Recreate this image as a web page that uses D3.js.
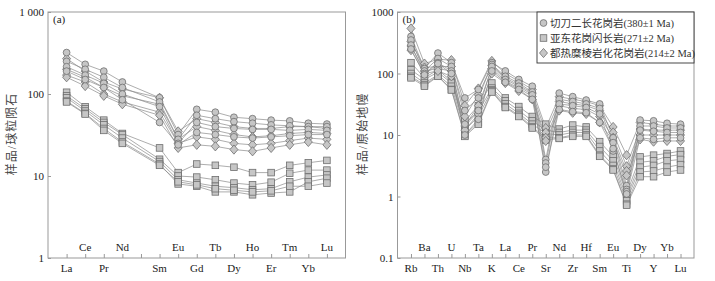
<!DOCTYPE html>
<html lang="zh-cn">
<head>
<meta charset="utf-8">
<title>稀土元素配分图与微量元素蛛网图</title>
<script src="https://d3js.org/d3.v7.min.js"></script>
<style>
  body { margin: 0; background: #fff; }
  .frame { fill: none; stroke: #999; stroke-width: 1; }
  .tick line { stroke: #999; }
  .series { fill: none; stroke: #8a8a8a; stroke-width: 0.7; }
  .mark { fill: #c6c6c6; stroke: #6e6e6e; stroke-width: 0.8; }
</style>
</head>
<body>
<svg width="715" height="281"></svg>
<script>
// ---- (a) chondrite-normalised REE ----
var reeElements = ["La","Ce","Pr","Nd","Pm","Sm","Eu","Gd","Tb","Dy","Ho","Er","Tm","Yb","Lu"];
// Pm has no data (null)
var reeCircle = [
  [320,230,190,140,null,90,32,65,60,52,50,48,47,44,43],
  [250,200,160,120,null,80,28,55,50,46,44,42,41,40,40],
  [215,170,135,100,null,70,25,45,40,38,37,37,36,37,36],
  [190,150,120, 85,null,45,24,34,32,30,29,30,31,32,32]
];
var reeDiamond = [
  [270,190,140,115,null,90,35,50,45,40,38,38,40,40,38],
  [200,160,120, 95,null,75,28,40,36,32,30,31,33,34,33],
  [170,140,100, 80,null,60,25,30,28,25,24,25,27,29,28],
  [160,125, 95, 75,null,55,22,24,23,21,20,22,24,26,24]
];
var reeSquare = [
  [105,70,48,33,null,22,11,14,13.5,12.8,11,11,13.5,14.5,15.5],
  [ 95,66,45,32,null,16,10,9.7,9,8.2,7.8,8.4,10.8,11.8,11.8],
  [ 90,62,42,29,null,15,9,8.2,7.5,7.2,6.8,7,8.5,9.7,10.3],
  [ 82,58,38,26,null,14,8,7.5,6.4,6.4,5.9,6.2,6.4,8.5,9.4],
  [ 80,57,36,25,null,13.5,8.5,7.8,7,6.7,6.4,6.6,7.5,7.5,8.2]
];
var reeTicks = [1, 10, 100, 1000];
var reeTickLabels = ["1", "10", "100", "1 000"];

// ---- (b) primitive-mantle-normalised spider ----
var spiderElements = ["Rb","Ba","Th","U","Nb","Ta","K","La","Ce","Pr","Sr","Nd","Zr","Hf","Sm","Eu","Ti","Dy","Y","Yb","Lu"];
var spiderCircle = [
  [400,120,215,150,40,55,150,110,80,62,4,48,42,37,32,9,1.5,17.5,17,15.5,15],
  [350,110,175,130,25,40,140,90,70,50,3.5,38,35,32,27,7.5,1.3,14,14,13,13],
  [290,100,150,110,15,25,130,80,62,45,2.5,32,30,28,22,5.5,1.2,12,11.5,11,11],
  [250,95,145,100,10,18,110,72,55,38,3,26,24,23,16,6,1.1,9,8.5,9,9]
];
var spiderDiamond = [
  [540,145,170,165,30,57,160,100,75,55,13,42,38,35,30,13.5,4.7,16,15,14,14],
  [330,125,130,130,20,45,135,85,65,48,11,35,32,30,25,11,3.1,12.5,12,12,12],
  [280,110,120,110,14,30,120,75,58,42,9,30,27,26,20,9,2.6,10,10,10,10],
  [240,100,110,90,12,22,100,70,52,38,8,25,23,22,16,8,2.2,8.5,7.8,8,8]
];
var spiderSquare = [
  [150,85,115,75,17,30,70,40,29,20,15,12.5,14.5,13.5,7.8,4.5,1.1,4.4,4.7,5,5.5],
  [115,80,105,70,14,24,58,36,25,17,12,11,12,12,6.5,3.8,0.95,3.6,3.8,4.5,4.8],
  [100,70,95,62,12,20,54,32,22.5,15,10.6,10,11,11,5.5,3.2,0.85,3,3.2,3.8,4],
  [90,65,92,55,10,16,52,29,21,13.5,9,9,10,10,4.7,2.8,0.75,2.5,2.6,3,3.3],
  [85,62,90,54,9.5,15,50,28,20,13,8.3,8.8,9.5,9.5,4.5,2.7,0.72,2.1,2.1,2.5,2.7]
];
var spiderTicks = [0.1, 1, 10, 100, 1000];
var spiderTickLabels = ["0.1", "1", "10", "100", "1000"];

var legendNames = ["切刀二长花岗岩(380±1 Ma)", " 亚东花岗闪长岩(271±2 Ma)", "都热糜棱岩化花岗岩(214±2 Ma)"];
var legendShapes = ["circle", "square", "diamond"];

var serif = "'Liberation Serif', 'DejaVu Serif', serif";
var cjk = "'Liberation Serif', 'Noto Sans CJK SC', sans-serif";

var svg = d3.select("svg");

function marker(g, shape, x, y) {
  if (shape === "circle") {
    g.append("circle").attr("class", "mark").attr("cx", x).attr("cy", y).attr("r", 3.4);
  } else if (shape === "square") {
    g.append("rect").attr("class", "mark").attr("x", x - 3.3).attr("y", y - 3.3).attr("width", 6.6).attr("height", 6.6);
  } else {
    g.append("path").attr("class", "mark")
      .attr("d", "M" + x + "," + (y - 4.6) + "L" + (x + 4) + "," + y + "L" + x + "," + (y + 4.6) + "L" + (x - 4) + "," + y + "Z");
  }
}

function panel(opt) {
  var g = svg.append("g");
  var x = d3.scaleLinear().domain([0, opt.elements.length + 1]).range([opt.left, opt.right]);
  var y = d3.scaleLog().domain(opt.yDomain).range([opt.bottom, opt.top]);

  g.append("rect").attr("class", "frame")
    .attr("x", opt.left).attr("y", opt.top)
    .attr("width", opt.right - opt.left).attr("height", opt.bottom - opt.top);

  // y axis, ticks inside
  var ya = g.append("g").attr("transform", "translate(" + opt.left + ",0)")
    .call(d3.axisRight(y).tickValues(opt.ticks).tickSize(3).tickFormat(""));
  ya.select(".domain").remove();
  g.selectAll(".ylab").data(opt.ticks).enter().append("text")
    .attr("x", opt.left - 4).attr("y", function(d) { return y(d) + 4; })
    .attr("text-anchor", "end").attr("font-family", serif).attr("font-size", 11).attr("fill", "#222")
    .text(function(d, i) { return opt.tickLabels[i]; });

  // x axis ticks pointing up; labels alternate below / above, skipping unlabelled slots
  var xa = g.append("g").attr("transform", "translate(0," + opt.bottom + ")")
    .call(d3.axisTop(x).tickValues(d3.range(1, opt.elements.length + 1)).tickSize(4).tickFormat(""));
  xa.select(".domain").remove();
  var k = 0;
  opt.elements.forEach(function(el, i) {
    if (el === "Pm") return;
    var below = (k++ % 2 === 0);
    g.append("text")
      .attr("x", x(i + 1))
      .attr("y", below ? opt.bottom + 14 : opt.bottom - 7)
      .attr("text-anchor", "middle").attr("font-family", serif).attr("font-size", 11).attr("fill", "#222")
      .text(el);
  });

  g.append("text")
    .attr("transform", "translate(" + opt.titleX + "," + opt.titleY + ") rotate(-90)")
    .attr("text-anchor", "middle").attr("font-family", cjk).attr("font-size", 12)
    .attr("fill", "#444").style("letter-spacing", "1px")
    .text(opt.title);

  g.append("text").attr("x", opt.left + 5).attr("y", opt.top + 11)
    .attr("font-family", serif).attr("font-size", 11).attr("fill", "#222").text(opt.tag);

  var groups = [[opt.squares, "square"], [opt.diamonds, "diamond"], [opt.circles, "circle"]];
  groups.forEach(function(gr) {
    gr[0].forEach(function(s) {
      // bridge over missing values (Pm)
      var pts = s.map(function(v, i) { return v == null ? null : [x(i + 1), y(v)]; }).filter(Boolean);
      g.append("path").attr("class", "series").attr("d", d3.line()(pts));
    });
  });
  groups.forEach(function(gr) {
    gr[0].forEach(function(s) {
      s.forEach(function(v, i) { if (v != null) marker(g, gr[1], x(i + 1), y(v)); });
    });
  });
  return g;
}

panel({
  elements: reeElements, circles: reeCircle, diamonds: reeDiamond, squares: reeSquare,
  left: 48, right: 345.5, top: 12, bottom: 258, yDomain: [1, 1000],
  ticks: reeTicks, tickLabels: reeTickLabels, title: "样品/球粒陨石", titleX: 16, titleY: 134, tag: "(a)"
});

var pb = panel({
  elements: spiderElements, circles: spiderCircle, diamonds: spiderDiamond, squares: spiderSquare,
  left: 397.5, right: 694, top: 12, bottom: 258, yDomain: [0.1, 1000],
  ticks: spiderTicks, tickLabels: spiderTickLabels, title: "样品/原始地幔", titleX: 367, titleY: 134, tag: "(b)"
});

// legend
var lg = pb.append("g");
lg.append("rect").attr("x", 537).attr("y", 12).attr("width", 157).attr("height", 51)
  .attr("fill", "#fff").attr("stroke", "#333").attr("stroke-width", 0.9);
legendNames.forEach(function(name, i) {
  var cy = 23 + i * 15;
  marker(lg, legendShapes[i], 543.5, cy);
  lg.append("text").attr("x", 550).attr("y", cy + 4)
    .attr("font-family", cjk).attr("font-size", 10.5).attr("fill", "#333").text(name);
});
</script>
</body>
</html>
